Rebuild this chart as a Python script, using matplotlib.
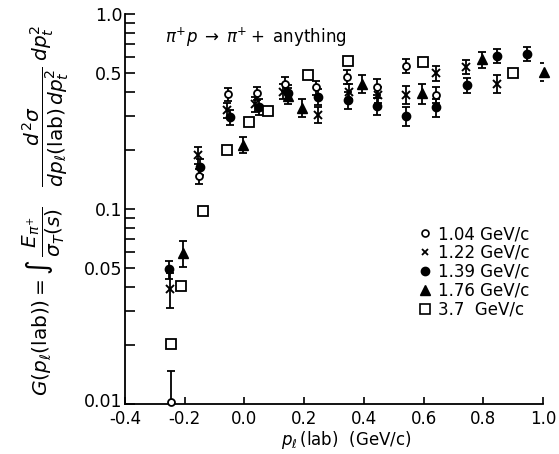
import matplotlib
matplotlib.use('Agg')
import matplotlib.pyplot as plt
import matplotlib.transforms as mtransforms
from matplotlib.lines import Line2D
from matplotlib.ticker import FixedLocator, FixedFormatter, NullLocator

plt.rcParams['font.family'] = ['DejaVu Sans']
plt.rcParams['mathtext.fontset'] = 'dejavusans'
plt.rcParams['axes.unicode_minus'] = False

# ---------------- data ----------------
x_104 = [-0.247, -0.151, -0.054, 0.043, 0.137, 0.240, 0.343, 0.443, 0.541, 0.641]
y_104 = [0.0102, 0.147, 0.387, 0.392, 0.440, 0.420, 0.476, 0.424, 0.541, 0.385]
e_104 = [0.0046, 0.013, 0.028, 0.030, 0.035, 0.035, 0.040, 0.040, 0.045, 0.035]

x_122 = [-0.250, -0.155, -0.060, 0.035, 0.130, 0.247, 0.350, 0.448, 0.541, 0.641, 0.742, 0.845]
y_122 = [0.039, 0.189, 0.320, 0.345, 0.400, 0.305, 0.400, 0.385, 0.385, 0.497, 0.537, 0.440]
e_122 = [0.008, 0.018, 0.028, 0.030, 0.035, 0.030, 0.035, 0.035, 0.040, 0.045, 0.045, 0.045]

x_139 = [-0.253, -0.150, -0.050, 0.050, 0.145, 0.245, 0.346, 0.443, 0.541, 0.643, 0.747, 0.845, 0.945]
y_139 = [0.049, 0.165, 0.295, 0.335, 0.395, 0.377, 0.362, 0.337, 0.300, 0.333, 0.432, 0.610, 0.624]
e_139 = [0.005, 0.015, 0.025, 0.030, 0.035, 0.035, 0.035, 0.035, 0.035, 0.035, 0.040, 0.050, 0.050]

x_176 = [-0.205, -0.004, 0.145, 0.192, 0.393, 0.594, 0.795, 1.003]
y_176 = [0.0593, 0.213, 0.380, 0.330, 0.440, 0.392, 0.586, 0.506]
e_176 = [0.009, 0.020, 0.035, 0.035, 0.045, 0.045, 0.055, 0.055]

x_37 = [-0.247, -0.214, -0.138, -0.059, 0.014, 0.080, 0.214, 0.346, 0.597, 0.900]
y_37 = [0.0203, 0.0403, 0.098, 0.201, 0.279, 0.319, 0.487, 0.574, 0.569, 0.497]

x_ticks = [-0.4, -0.2, 0.0, 0.2, 0.4, 0.6, 0.8, 1.0]
x_ticklabels = ['-0.4', '-0.2', '0.0', '0.2', '0.4', '0.6', '0.8', '1.0']
y_ticks = [0.01, 0.05, 0.1, 0.5, 1.0]
y_ticklabels = ['0.01', '0.05', '0.1', '0.5', '1.0']
y_minor = [0.02, 0.03, 0.04, 0.06, 0.07, 0.08, 0.09,
           0.2, 0.3, 0.4, 0.6, 0.7, 0.8, 0.9]
legend_labels = ['1.04 GeV/c', '1.22 GeV/c', '1.39 GeV/c', '1.76 GeV/c', '3.7  GeV/c']

# ---------------- figure ----------------
fig = plt.figure(figsize=(5.59, 4.54), dpi=100)
ax = fig.add_axes([125/559, 50/454, 418/559, 390/454])
ax.set_yscale('log')
ax.set_xlim(-0.4, 1.0)
ax.set_ylim(0.01, 1.0)

eb_kw = dict(fmt='none', ecolor='black', elinewidth=1.3, capsize=2.8, capthick=1.3)
ax.errorbar(x_104, y_104, yerr=e_104, **eb_kw)
ax.errorbar(x_122, y_122, yerr=e_122, **eb_kw)
ax.errorbar(x_139, y_139, yerr=e_139, **eb_kw)
ax.errorbar(x_176, y_176, yerr=e_176, **eb_kw)

ax.plot(x_104, y_104, 'o', ms=5, mfc='white', mec='black', mew=1.3, ls='none', clip_on=False, zorder=5)
ax.plot(x_122, y_122, 'x', ms=5.5, mec='black', mew=1.4, ls='none', clip_on=False, zorder=5)
ax.plot(x_139, y_139, 'o', ms=6, mfc='black', mec='black', ls='none', clip_on=False, zorder=5)
ax.plot(x_176, y_176, '^', ms=7, mfc='black', mec='black', ls='none', clip_on=False, zorder=5)
ax.plot(x_37, y_37, 's', ms=7, mfc='white', mec='black', mew=1.3, ls='none', clip_on=False, zorder=5)

for s in ['top', 'right']:
    ax.spines[s].set_visible(False)
for s in ['left', 'bottom']:
    ax.spines[s].set_linewidth(1.3)

ax.xaxis.set_major_locator(FixedLocator(x_ticks))
ax.xaxis.set_major_formatter(FixedFormatter(x_ticklabels))
ax.xaxis.set_minor_locator(NullLocator())
ax.yaxis.set_major_locator(FixedLocator(y_ticks))
ax.yaxis.set_major_formatter(FixedFormatter(y_ticklabels))
ax.yaxis.set_minor_locator(FixedLocator(y_minor))
ax.yaxis.set_minor_formatter(FixedFormatter([''] * len(y_minor)))

ax.tick_params(axis='x', direction='in', length=5, width=1.2, labelsize=12, pad=4, top=False)
ax.tick_params(axis='y', which='both', direction='in', length=7, width=1.2, labelsize=12.5, pad=2, right=False)

# nudge the bottom y label up a little so it sits above the "-0.4" label
fig.canvas.draw()
for lab in ax.yaxis.get_majorticklabels():
    if lab.get_text() == '0.01':
        lab.set_transform(lab.get_transform() +
                          mtransforms.ScaledTranslation(0, 3/72, fig.dpi_scale_trans))

ax.text(0.096, 0.941, r'$\pi^{+}p\;\rightarrow\;\pi^{+}+$ anything', transform=ax.transAxes,
        fontsize=12, ha='left', va='center')

handles = [
    Line2D([], [], marker='o', ms=5, mfc='white', mec='black', mew=1.2, ls='none'),
    Line2D([], [], marker='x', ms=5, mec='black', mew=1.3, ls='none'),
    Line2D([], [], marker='o', ms=6, mfc='black', mec='black', ls='none'),
    Line2D([], [], marker='^', ms=7, mfc='black', mec='black', ls='none'),
    Line2D([], [], marker='s', ms=6.5, mfc='white', mec='black', mew=1.2, ls='none'),
]
ax.legend(handles, legend_labels, loc='upper left', bbox_to_anchor=(0.683, 0.48),
          frameon=False, fontsize=12, handlelength=0.8, handletextpad=0.35,
          labelspacing=0.05, borderpad=0.0)

fig.text(46/559, 1 - 210/454,
         r'$G(p_{\ell}(\mathrm{lab}))=\int\,\dfrac{E_{\pi^{+}}}{\sigma_{T}(s)}\quad'
         r'\dfrac{d^{2}\sigma}{dp_{\ell}(\mathrm{lab})\,dp_{t}^{2}}\;dp_{t}^{2}$',
         rotation=90, ha='center', va='center', fontsize=14.5)

fig.text(346/559, 1 - 440/454, r'$p_{\ell}\,(\mathrm{lab})\ \ (\mathrm{GeV/c})$',
         ha='center', va='center', fontsize=12)

fig.savefig('out.png', dpi=100)
